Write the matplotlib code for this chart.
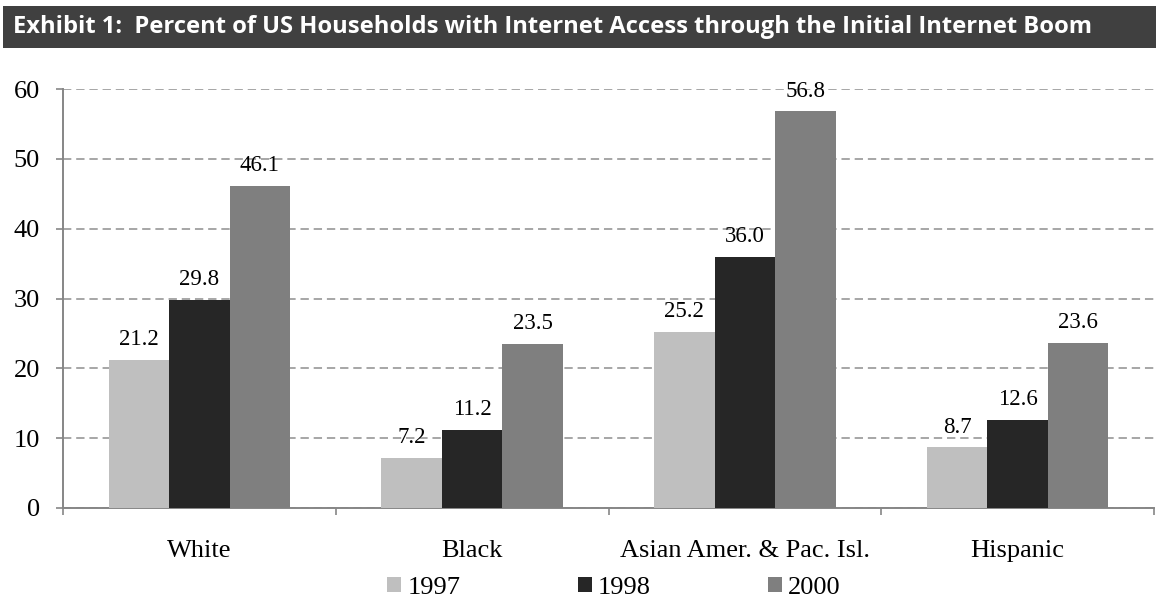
import matplotlib
matplotlib.use("Agg")
import matplotlib.pyplot as plt
import numpy as np
from matplotlib.patches import Rectangle

categories = ["White", "Black", "Asian Amer. & Pac. Isl.", "Hispanic"]
years = ["1997", "1998", "2000"]
v1997 = [21.2, 7.2, 25.2, 8.7]
v1998 = [29.8, 11.2, 36.0, 12.6]
v2000 = [46.1, 23.5, 56.8, 23.6]
series = [v1997, v1998, v2000]
colors = ["#BFBFBF", "#262626", "#7F7F7F"]
yticks = [0, 10, 20, 30, 40, 50, 60]
title = "Exhibit 1:  Percent of US Households with Internet Access through the Initial Internet Boom"

plt.rcParams["lines.scale_dashes"] = False
serif = ["Liberation Serif", "DejaVu Serif"]

W, H = 1156, 613
fig = plt.figure(figsize=(W / 100, H / 100), dpi=100)

# title bar
fig.patches.append(Rectangle((3 / W, 1 - 48 / H), 1 - 3 / W, 42 / H, transform=fig.transFigure,
                             facecolor="#404040", edgecolor="none"))
fig.text(13 / W, 1 - 27 / H, title, color="white", fontsize=17.1, fontweight="bold",
         family=["Open Sans", "DejaVu Sans"], va="center", ha="left")

ax = fig.add_axes([63 / W, 1 - 508 / H, (1154 - 63) / W, (508 - 89) / H])
x = np.arange(len(categories)) + 0.5
bw = 0.222
for i, (vals, c, yr) in enumerate(zip(series, colors, years)):
    pos = x + (i - 1) * bw
    ax.bar(pos, vals, width=bw, color=c, edgecolor="none", label=yr, zorder=3)
    for p, v in zip(pos, vals):
        ax.annotate(f"{v:.1f}", (p, v), xytext=(0, 7), textcoords="offset points",
                    ha="center", va="bottom", fontsize=16.5, family=serif, zorder=4)

ax.set_xlim(0, 4)
ax.set_ylim(0, 60)
ax.set_yticks(yticks)
ax.set_yticklabels([str(t) for t in yticks], fontsize=19, family=serif)
ax.yaxis.grid(True, color="#A6A6A6", linestyle=(0, (6, 3.5)), linewidth=1.4, zorder=0)
ax.set_axisbelow(True)
ax.set_xticks([0, 1, 2, 3, 4])
ax.set_xticklabels([])
ax.set_xticks(x, minor=True)
ax.set_xticklabels(categories, minor=True, fontsize=19, family=serif)
ax.tick_params(axis="x", which="minor", length=0, pad=23)
ax.tick_params(axis="x", which="major", length=5, width=1.2, color="#868686", direction="out")
ax.tick_params(axis="y", length=5, width=1.2, color="#868686", pad=11.5)
for s in ["top", "right"]:
    ax.spines[s].set_visible(False)
for s in ["left", "bottom"]:
    ax.spines[s].set_color("#868686")
    ax.spines[s].set_linewidth(1.4)

leg = fig.legend(loc="center", bbox_to_anchor=(614 / W, 1 - 588 / H), ncol=3, frameon=False,
                 prop={"family": serif, "size": 19}, handlelength=0.53, handleheight=0.53,
                 handletextpad=0.23, columnspacing=4.45)

fig.savefig("out.png", dpi=100)
